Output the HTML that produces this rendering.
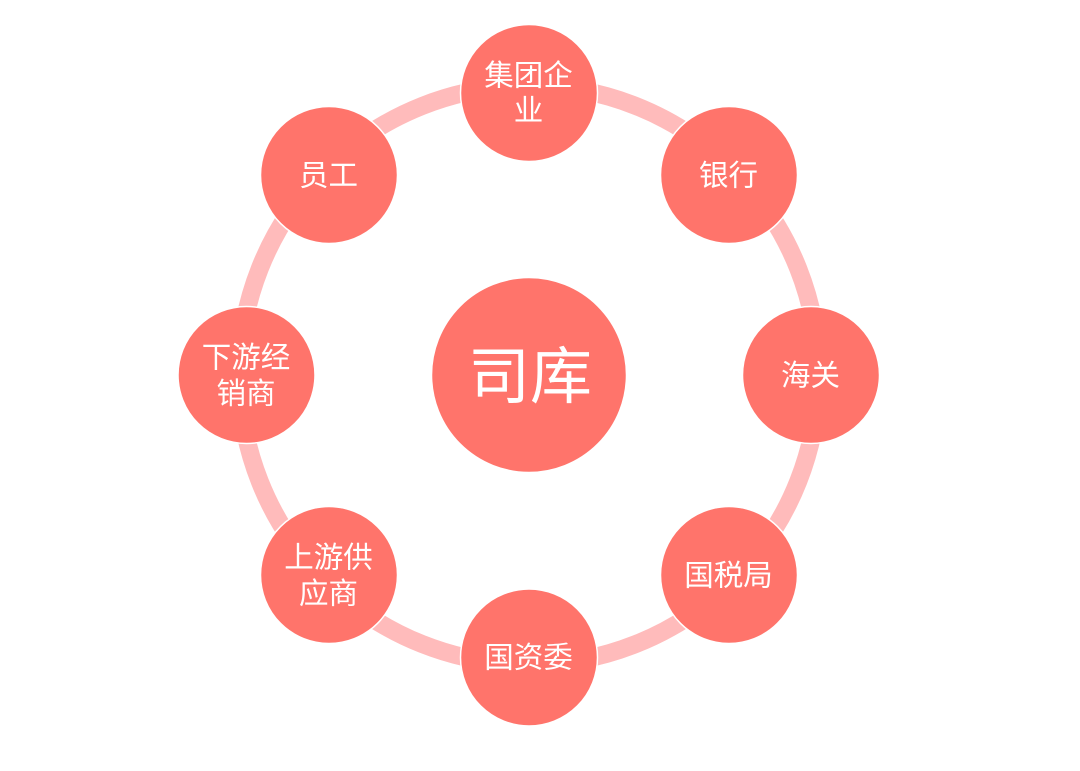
<!DOCTYPE html>
<html><head><meta charset="utf-8"><style>
html,body{margin:0;padding:0;background:#fff}
svg{display:block}
text{font-family:"Liberation Sans","Noto Sans CJK SC",sans-serif;fill:#fff;text-anchor:middle;font-weight:400}
.n{font-size:29.5px}
</style></head><body>
<svg width="1080" height="771" viewBox="0 0 1080 771" xmlns="http://www.w3.org/2000/svg">
<rect width="1080" height="771" fill="#fff"/>
<circle cx="529" cy="375" r="289.5" fill="none" stroke="#FFBBBB" stroke-width="18"/>
<g fill="#FF746B" stroke="#fff" stroke-width="1.5">
<circle cx="529" cy="375" r="97.5"/>
<circle cx="529" cy="93" r="68.5"/>
<circle cx="729" cy="175" r="68.5"/>
<circle cx="811" cy="375" r="68.5"/>
<circle cx="729" cy="575" r="68.5"/>
<circle cx="529" cy="657.500" r="68.5"/>
<circle cx="329" cy="575" r="68.5"/>
<circle cx="246.500" cy="375" r="68.5"/>
<circle cx="329" cy="175" r="68.5"/>
</g>
<text x="530" y="398" font-size="62">司库</text>
<g class="n">
<text class="n" x="528.500" y="85.500">集团企</text>
<text class="n" x="528.500" y="120.500">业</text>
<text class="n" x="728.500" y="185.500">银行</text>
<text class="n" x="810.500" y="385.500">海关</text>
<text class="n" x="728.500" y="585.500">国税局</text>
<text class="n" x="528.500" y="667.500">国资委</text>
<text class="n" x="328.500" y="567.500">上游供</text>
<text class="n" x="328.500" y="603.500">应商</text>
<text class="n" x="246" y="367.500">下游经</text>
<text class="n" x="246" y="403.500">销商</text>
<text class="n" x="328.500" y="185.500">员工</text>
</g>
</svg>
</body></html>
